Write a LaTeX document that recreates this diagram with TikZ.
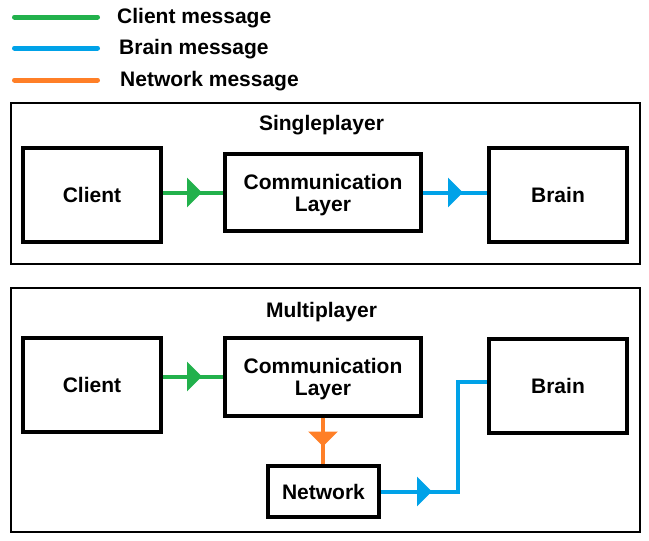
\documentclass[tikz,border=0pt]{standalone}
\usepackage{fontspec}
\setmainfont{Liberation Sans}
\usetikzlibrary{arrows.meta,decorations.markings}
\definecolor{clientgreen}{RGB}{34,177,76}
\definecolor{brainblue}{RGB}{0,162,232}
\definecolor{netorange}{RGB}{255,127,39}

\begin{document}
\begin{tikzpicture}[
        x=1pt, y=-1pt,
        font=\fontsize{21}{22}\selectfont\bfseries,
        block/.style={rectangle, draw, line width=4pt, minimum width=138pt, minimum height=94pt, inner sep=0pt, text depth=0pt, align=center},
        sectionbox/.style={draw, line width=1.2pt},
        legendline/.style={line width=5pt, line cap=round},
        msgline/.style={line width=4pt, postaction={decorate},
            decoration={markings, mark=at position #1 with {\arrow{Triangle[length=15pt, width=29pt]}}}}
    ]
        \useasboundingbox (0,0) rectangle (649,541);

        % Legend
        \foreach \lbl/\col/\ly/\tx [count=\i] in {Client/clientgreen/17/117, Brain/brainblue/48/119, Network/netorange/80/120} {
            \coordinate (LS\i) at (14.5,\ly);
            \coordinate (LE\i) at (97.5,\ly);
            \draw[legendline, color=\col] (LS\i) -- (LE\i);
            \node[anchor=base west, inner sep=0pt] (L\i) at (\tx,\ly+6) {\lbl\ message};
        }

        % Singleplayer
        \draw[sectionbox] (11,103) rectangle (640,264);
        \node[anchor=base] (STitle) at (321.5,130) {Singleplayer};
        \node[block] (SClient) at (92,195) {Client};
        \node[block, minimum width=196pt, minimum height=77pt] (SComm) at (323,192.5) {Communication\\Layer};
        \node[block] (SBrain) at (558,195) {Brain};

        \draw[msgline=39pt, color=clientgreen] (SClient.east |- SComm) -- (SComm.west);
        \draw[msgline=40pt, color=brainblue] (SComm.east) -- (SComm.east -| SBrain.west);

        % Multiplayer
        \draw[sectionbox] (11,288) rectangle (640,532);
        \node[anchor=base] (MTitle) at (321.5,317) {Multiplayer};
        \node[block] (MClient) at (92,385) {Client};
        \node[block, minimum width=196pt, minimum height=78pt] (MComm) at (323,376.5) {Communication\\Layer};
        \node[block] (MBrain) at (558,385.5) {Brain};
        \node[block, minimum width=111pt, minimum height=51pt] (MNet) at (323.5,491.5) {Network};

        \coordinate (MTurn) at (458,382);
        \draw[msgline=39pt, color=clientgreen] (MClient.east |- MComm) -- (MComm.west);
        \draw[msgline=29pt, color=netorange] (MComm.south) -- (MComm.south |- MNet.north);
        \draw[msgline=51pt, color=brainblue] (MNet.east) -| (MTurn) -- (MTurn -| MBrain.west);
    \end{tikzpicture}
\end{document}
